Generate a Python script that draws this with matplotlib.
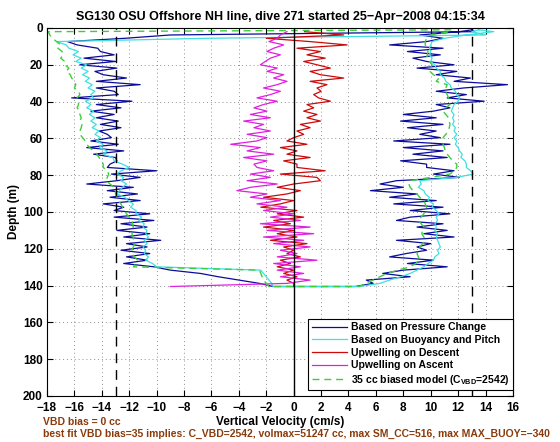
import numpy as np
import matplotlib
matplotlib.use("Agg")
import matplotlib.pyplot as plt

plt.rcParams['font.family'] = ['Liberation Sans', 'DejaVu Sans']
plt.rcParams['font.weight'] = 'bold'
plt.rcParams['mathtext.fontset'] = 'custom'
plt.rcParams['mathtext.rm'] = 'Liberation Sans:bold'
plt.rcParams['mathtext.bf'] = 'Liberation Sans:bold'
plt.rcParams['mathtext.default'] = 'rm'

# sample depths (m) for the profiles, every 1.8 m
depth = np.arange(2.0, 139.0, 1.8)

# descent, velocity from pressure change (cm/s)
w_press_dn = [13.2, -9.0, -12.3, -16.5, -15.8, -14.3, -14.1, -13.1, -15.3, -13.0, -15.6, -12.9, -14.5, -13.9,
              -12.2, -14.4, -11.2, -14.4, -13.1, -12.8, -16.2, -11.8, -14.4, -12.6, -14.8, -13.1, -14.4, -12.8,
              -14.1, -12.6, -14.2, -13.6, -13.3, -14.8, -12.8, -15.1, -12.4, -14.6, -13.0, -12.9, -13.4,
              -13.6, -10.0, -13.3, -11.2, -12.9, -15.1, -11.7, -13.6, -11.4, -13.4, -11.2, -13.9, -12.4, -13.1,
              -10.5, -13.1, -10.2, -12.6, -10.7, -12.9, -10.5, -12.4, -9.7, -12.2, -10.7, -12.6, -10.5, -12.2,
              -10.7, -12.4, -10.2, -9.0, -6.8, -5.5, -4.0, -2.5]
# descent, velocity from buoyancy and pitch
w_buoy_dn = [13.0, 14.0, -6.3, -17.3, -16.6, -16.4, -15.7, -16.1, -15.5, -15.9, -15.1, -15.5, -15.0, -15.4,
             -14.9, -15.2, -14.7, -15.0, -14.5, -14.8, -14.6, -15.2, -14.8, -15.1, -14.6, -14.9, -14.5, -14.8,
             -14.4, -14.7, -14.2, -14.5, -14.1, -14.4, -13.9, -14.2, -13.6, -13.9, -13.2, -13.1, -12.5,
             -12.0, -12.6, -12.9, -12.4, -12.6, -12.2, -12.5, -12.7, -12.9, -12.3, -12.1, -11.7, -11.9, -11.5,
             -11.5, -11.1, -11.3, -10.9, -11.0, -10.7, -10.8, -10.6, -10.9, -10.7, -11.0, -10.8, -10.9, -10.6,
             -10.8, -10.3, -10.0, -2.4, -2.2, -2.0, -1.8, -1.6]
# descent, 35 cc biased model
w_model_dn = [-17.9, -17.8, -17.6, -17.3, -17.0, -17.2, -16.9, -16.8, -17.0, -16.7, -16.7, -16.4, -16.6, -16.3,
              -16.2, -16.0, -15.9, -16.0, -15.7, -15.6, -15.8, -15.7, -15.7, -15.8, -15.6, -15.6, -15.5, -15.6,
              -15.45, -15.5, -15.6, -15.6, -15.4, -15.2, -15.1, -14.9, -14.6, -14.35, -14.2, -14.0, -13.9,
              -13.9, -13.6, -13.5, -13.6, -13.7, -13.4, -13.1, -13.0, -13.0, -12.9, -12.8, -12.6, -12.5, -12.3,
              -12.2, -12.0, -11.8, -11.75, -11.7, -11.8, -11.8, -11.7, -11.7, -11.6, -11.7, -11.8, -11.8, -11.6,
              -11.4, -11.5, -11.7, -2.5, -2.4, -2.3, -2.2, -2.0]

# ascent (same depths, top to bottom)
w_press_up = [12.1, 9.2, 10.9, 9.7, 7.0, 10.9, 8.3, 10.7, 8.7, 9.7, 11.7, 9.0, 11.9, 10.4,
              12.9, 11.7, 15.6, 12.4, 10.4, 12.6, 11.2, 13.9, 10.4, 11.4, 10.2, 8.0, 10.4, 7.8,
              10.9, 8.3, 10.4, 9.2, 10.7, 7.3, 11.4, 8.0, 10.9, 8.7, 11.2, 7.8, 9.7,
              9.7, 11.7, 10.2, 12.1, 7.5, 6.3, 8.0, 5.6, 9.0, 7.0, 10.4, 7.3, 10.9, 8.5,
              11.4, 8.5, 7.5, 10.9, 9.0, 11.2, 9.5, 11.7, 7.5, 10.0, 9.0, 9.7, 8.2, 7.0,
              10.2, 8.3, 11.2, 8.0, 6.5, 8.5, 5.3, 5.8]
w_buoy_up = [14.6, 12.6, 11.0, 10.1, 10.0, 9.9, 10.0, 9.9, 10.1, 10.0, 10.3, 10.4, 10.7, 10.7,
             11.0, 11.1, 11.4, 11.5, 11.8, 11.9, 12.1, 12.0, 11.7, 11.6, 11.5, 11.7, 11.6, 11.7,
             11.6, 11.8, 11.7, 11.9, 11.7, 11.9, 11.8, 12.0, 12.1, 12.3, 12.2, 12.5, 12.6,
             12.6, 12.9, 13.1, 11.9, 9.2, 9.3, 9.1, 9.5, 9.6, 9.9, 9.8, 10.2, 10.1, 10.4,
             10.6, 10.4, 10.5, 10.3, 10.4, 10.3, 10.5, 10.4, 10.5, 10.6, 10.7, 10.5, 10.6, 10.3,
             10.2, 9.8, 9.5, 9.0, 8.5, 7.8, 7.0, 6.3]
w_model_up = [11.4, 10.0, 9.7, 9.6, 9.6, 9.7, 9.8, 9.75, 9.7, 9.9, 10.1, 9.95, 9.95, 10.2,
              10.6, 10.4, 11.2, 11.1, 11.05, 11.2, 11.3, 11.35, 11.4, 11.1, 10.9, 11.1, 11.3, 11.35,
              11.4, 11.35, 11.3, 11.1, 10.9, 10.95, 10.9, 11.0, 11.05, 11.2, 11.4, 11.6, 11.9,
              11.9, 11.7, 11.4, 10.0, 8.5, 8.4, 8.5, 8.7, 9.0, 9.2, 9.5, 9.6, 9.7, 9.6,
              9.5, 9.3, 9.1, 9.3, 9.5, 9.4, 9.35, 9.5, 9.6, 9.4, 9.2, 9.1, 9.0, 9.1,
              9.2, 8.9, 8.5, 7.6, 6.8, 6.3, 5.8, 5.2]

# upwelling estimates
w_upw_dn = [0.8, 3.65, -2.0, 1.2, 3.9, 0.24, 1.95, 0.97, 2.3, 0.73, 1.7, 2.68, 1.2, 1.95,
            3.65, 1.2, 2.43, 1.7, 2.0, 1.46, 1.82, 2.68, 0.97, 1.46, 0.73, 1.7, 0.97, 1.95,
            0.49, 1.2, 0.24, 0.73, 0.0, -0.49, 0.97, -0.97, 0.24, -0.49, 1.2, -0.73, 0.24,
            0.24, 2.3, -0.97, 1.7, 1.95, 0.0, -1.2, 0.49, -0.49, -2.2, 0.0, -0.97, -2.4, 0.24,
            -1.2, 0.73, -1.46, -0.24, -2.2, 0.0, -1.2, 0.24, -1.7, 0.97, -0.73, 0.0, -0.49, 0.49,
            -0.97, -0.24, -1.2, 0.0, -0.73, 0.24, -0.49, 0.0]
w_upw_up = [-0.49, -0.97, -1.2, -1.8, -0.73, -1.46, -1.95, -0.97, -1.7, -2.07, -2.43, -1.2, -1.95, -0.73,
            -1.46, -0.49, -1.2, -2.2, -0.97, -1.7, -2.68, -1.2, -2.2, -2.9, -1.95, -3.16, -1.7, -3.65,
            -2.2, -2.9, -1.7, -3.4, -1.95, -2.68, -4.6, -2.43, -3.4, -1.46, -3.65, -1.95, -2.9,
            -2.68, -1.46, -3.16, -1.7, -3.4, -1.2, -3.16, -4.14, -1.95, -3.16, -0.97, -2.68, -0.49, -2.2,
            0.0, -1.7, 0.49, -2.43, 1.2, -1.95, 1.46, -2.2, 0.73, -1.46, 1.2, -0.97, 0.24, -1.2,
            1.7, -1.46, 0.49, -1.2, 0.73, -0.97, 1.2, -0.49]

# surface / bottom turn points
surf_d, bot_d = 1.0, 140.5
surf_w = {'press': 13.0, 'buoy': 13.5, 'model': 11.5}
bot_w_dn = {'press': -1.5, 'buoy': -1.5, 'model': -1.8}
bot_w_up = {'press': 4.5, 'buoy': 4.8, 'model': 4.8}
upw_up_bot = -9.0

vbd_lines = [-13, 13]


def whole_dive(key, dn, up):
    d = np.concatenate([[surf_d], depth, [bot_d, bot_d], depth[::-1], [surf_d]])
    w = np.concatenate([[surf_w[key]], dn, [bot_w_dn[key], bot_w_up[key]], up[::-1], [surf_w[key]]])
    return w, d


fig = plt.figure(figsize=(5.6, 4.42), dpi=100)
ax = fig.add_axes([0.0839, 0.1041, 0.8321, 0.8326])

w, d = whole_dive('press', w_press_dn, w_press_up)
ax.plot(w, d, color='#0c0c9a', lw=0.9, label='Based on Pressure Change')
w, d = whole_dive('buoy', w_buoy_dn, w_buoy_up)
ax.plot(w, d, color='#3ee0e0', lw=0.9, label='Based on Buoyancy and Pitch')
ax.plot(np.concatenate([w_upw_dn, [0.0]]), np.concatenate([depth, [bot_d]]),
        color='#cc0a0a', lw=0.9, label='Upwelling on Descent')
ax.plot(np.concatenate([[upw_up_bot], w_upw_up[::-1]]), np.concatenate([[bot_d], depth[::-1]]),
        color='#e020e0', lw=0.9, label='Upwelling on Ascent')
w, d = whole_dive('model', w_model_dn, w_model_up)
ax.plot(w, d, color='#3ccf3c', lw=1.0, ls=(0, (5, 3.5)), label=r'35 cc biased model (C$_{VBD}$=2542)')

for xv in vbd_lines:
    ax.axvline(xv, color='k', lw=1.0, ls=(0, (7, 5)))
ax.axvline(0, color='k', lw=1.0)

ax.set_xlim(-18, 16)
ax.set_ylim(200, 0)
ax.set_xticks(np.arange(-18, 17, 2))
ax.set_yticks(np.arange(0, 201, 20))
ax.grid(True, color='#909090', ls=(0, (1, 3)), lw=0.7)
ax.tick_params(direction='in', top=True, right=True, length=4, labelsize=8.5)
ax.tick_params(axis='x', pad=4)
ax.tick_params(axis='y', pad=3)
for s in ax.spines.values():
    s.set_linewidth(0.8)

ax.set_title('SG130 OSU Offshore NH line, dive 271 started 25\u2212Apr\u22122008 04:15:34',
             fontsize=9, fontweight='bold', pad=6)
ax.set_xlabel('Vertical Velocity (cm/s)', fontsize=8.5, fontweight='bold', labelpad=2)
ax.set_ylabel('Depth (m)', fontsize=8.5, fontweight='bold', labelpad=2)

leg = ax.legend(loc='lower right', bbox_to_anchor=(1.0, 0.015), borderaxespad=0,
                fontsize=7.5, handlelength=3.4, handletextpad=0.3, labelspacing=0.25,
                borderpad=0.35, fancybox=False, framealpha=1, edgecolor='k')
leg.get_frame().set_linewidth(0.8)

brown = '#8b3a0a'
fig.text(43 / 560, 1 - 422 / 442, 'VBD bias = 0 cc', color=brown, fontsize=7.5,
         fontweight='bold', va='center')
fig.text(43 / 560, 1 - 434 / 442,
         'best fit VBD bias=35 implies: C_VBD=2542, volmax=51247 cc, max SM_CC=516, max MAX_BUOY=\u2212340',
         color=brown, fontsize=7.5, fontweight='bold', va='center')

fig.savefig('out.png', dpi=100)
